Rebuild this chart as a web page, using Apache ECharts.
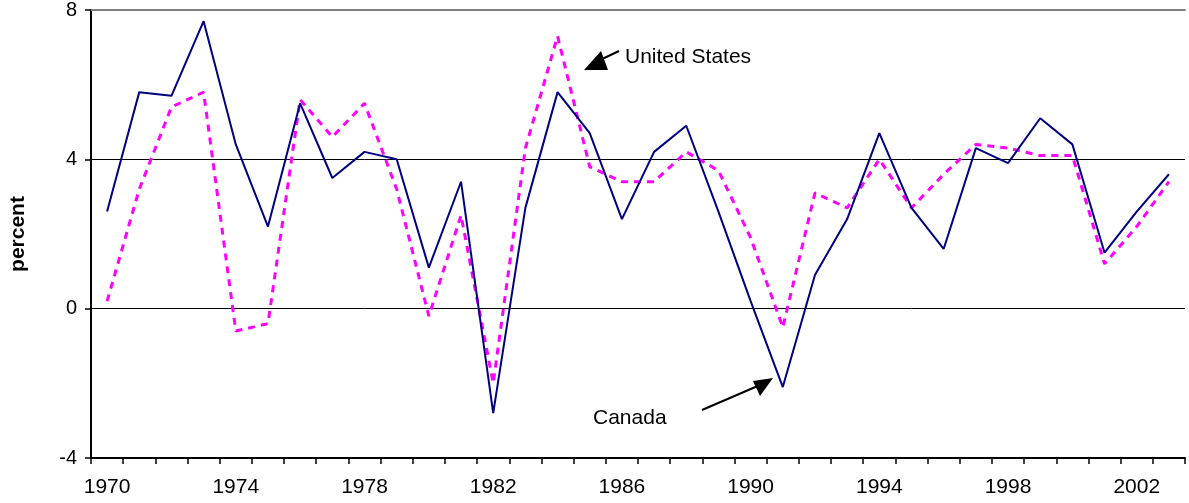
<!DOCTYPE html>
<html>
<head>
<meta charset="utf-8">
<script src="https://cdn.jsdelivr.net/npm/echarts@6/dist/echarts.min.js"></script>
<style>
html,body{margin:0;padding:0;background:#fff;}
#chart{width:1189px;height:503px;}
</style>
</head>
<body>
<div id="chart"></div>
<script>
const years = ['1970','1971','1972','1973','1974','1975','1976','1977','1978','1979',
  '1980','1981','1982','1983','1984','1985','1986','1987','1988','1989',
  '1990','1991','1992','1993','1994','1995','1996','1997','1998','1999',
  '2000','2001','2002','2003'];
const canada = [2.6,5.8,5.7,7.7,4.4,2.2,5.5,3.5,4.2,4.0,
  1.1,3.4,-2.8,2.7,5.8,4.7,2.4,4.2,4.9,2.6,
  0.2,-2.1,0.9,2.4,4.7,2.7,1.6,4.3,3.9,5.1,
  4.4,1.5,2.6,3.6];
const unitedStates = [0.2,3.2,5.4,5.8,-0.6,-0.4,5.6,4.6,5.5,3.2,
  -0.2,2.5,-2.0,4.3,7.3,3.8,3.4,3.4,4.2,3.7,
  1.9,-0.5,3.1,2.7,4.0,2.7,3.6,4.4,4.3,4.1,
  4.1,1.2,2.2,3.4];
const yTicks = {min:-4, max:8, interval:4};
const yTitle = 'percent';
const labelUS = 'United States';
const labelCanada = 'Canada';

const FONT = '"Liberation Sans", Arial, sans-serif';
const chart = echarts.init(document.getElementById('chart'), null, {renderer:'canvas'});
chart.setOption({
  animation:false,
  backgroundColor:'#ffffff',
  grid:{left:83, right:4, top:6, bottom:45, containLabel:false},
  xAxis:[{
    type:'category', data:years, boundaryGap:true,
    axisLine:{show:true, onZero:false, lineStyle:{color:'#000', width:2}},
    axisTick:{show:true, interval:0, length:6, lineStyle:{color:'#000', width:1.5}},
    axisLabel:{interval:3, margin:19, color:'#000', fontFamily:FONT, fontSize:21},
    splitLine:{show:false}
  },{
    type:'category', data:years, position:'top', boundaryGap:true,
    axisLine:{show:true, onZero:false, lineStyle:{color:'#808080', width:2}},
    axisTick:{show:false}, axisLabel:{show:false}, splitLine:{show:false}
  }],
  yAxis:{
    type:'value', min:yTicks.min, max:yTicks.max, interval:yTicks.interval,
    name:yTitle, nameLocation:'middle', nameRotate:90, nameGap:62,
    nameTextStyle:{color:'#000', fontFamily:FONT, fontSize:21, fontWeight:'bold'},
    axisLine:{show:true, onZero:false, lineStyle:{color:'#000', width:2}},
    axisTick:{show:true, length:6, lineStyle:{color:'#000', width:1.5}},
    axisLabel:{margin:14, color:'#000', fontFamily:FONT, fontSize:20},
    splitLine:{show:true, lineStyle:{color:['#000','#000','#000','rgba(0,0,0,0)'], width:1}}
  },
  series:[{
    name:labelCanada, type:'line', data:canada, showSymbol:false, symbol:'none',
    lineStyle:{color:'#000080', width:2}, z:3
  },{
    name:labelUS, type:'line', data:unitedStates, showSymbol:false, symbol:'none',
    lineStyle:{color:'#FF00FF', width:3, type:[7,6]}, z:2
  }],
  graphic:[
    {type:'text', left:625, top:47, style:{text:labelUS, fill:'#000', font:'21px '+FONT}},
    {type:'line', shape:{x1:619, y1:51, x2:598, y2:61}, style:{stroke:'#000', lineWidth:2}},
    {type:'polygon', shape:{points:[[584,70],[608,70],[601,51]]}, style:{fill:'#000'}},
    {type:'text', left:593, top:408, style:{text:labelCanada, fill:'#000', font:'21px '+FONT}},
    {type:'line', shape:{x1:702, y1:410, x2:760, y2:385}, style:{stroke:'#000', lineWidth:2}},
    {type:'polygon', shape:{points:[[773,378],[753,381],[760,396]]}, style:{fill:'#000'}}
  ]
});
</script>
</body>
</html>
